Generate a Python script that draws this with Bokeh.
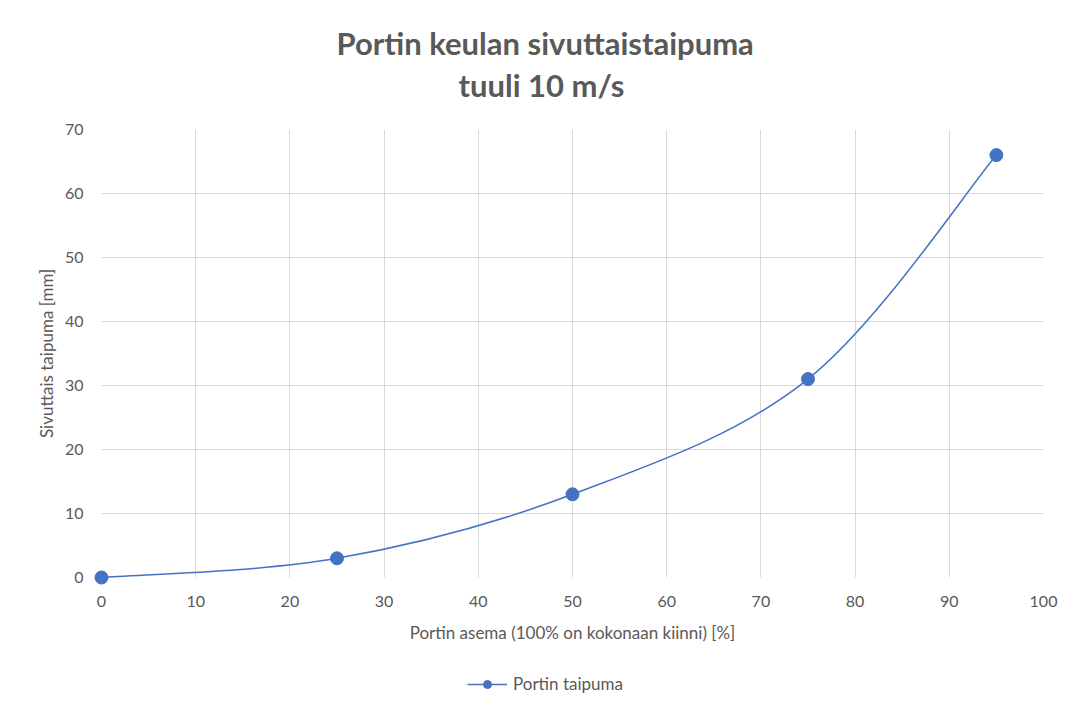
from bokeh.plotting import figure
from bokeh.layouts import column
from bokeh.models import Title, Legend, LegendItem, FixedTicker
from bokeh.embed import file_html
from bokeh.resources import INLINE

# Data
asema = [0, 25, 50, 75, 95]          # Portin asema [%]
taipuma = [0, 3, 13, 31, 66]         # Sivuttais taipuma [mm]
x_ticks = [0, 10, 20, 30, 40, 50, 60, 70, 80, 90, 100]
y_ticks = [0, 10, 20, 30, 40, 50, 60, 70]

title1 = "Portin keulan sivuttaistaipuma"
title2 = "tuuli 10 m/s"
series_name = "Portin taipuma"

BLUE = "#4472C4"
GRAY = "#595959"
GRID = "#d9d9d9"
FONT = "Lato"

p = figure(width=1059, height=650, x_range=(0, 100), y_range=(0, 70),
           output_backend="svg", toolbar_location=None,
           min_border_left=101, min_border_right=16,
           min_border_top=129, min_border_bottom=73)
p.outline_line_color = None
p.background_fill_color = "white"
p.border_fill_color = "white"

# Axes
for ax in (p.xaxis[0], p.yaxis[0]):
    ax.axis_line_color = None
    ax.major_tick_line_color = None
    ax.minor_tick_line_color = None
    ax.major_label_text_color = GRAY
    ax.major_label_text_font = FONT
    ax.major_label_text_font_size = "16px"
    ax.axis_label_text_color = GRAY
    ax.axis_label_text_font = FONT
    ax.axis_label_text_font_size = "17px"
    ax.axis_label_text_font_style = "normal"

p.xaxis.ticker = FixedTicker(ticks=x_ticks)
p.yaxis.ticker = FixedTicker(ticks=y_ticks)
p.xaxis.axis_label = "Portin asema (100% on kokonaan kiinni) [%]"
p.yaxis.axis_label = "Sivuttais taipuma [mm]"
p.xaxis.major_label_standoff = 12
p.xaxis.axis_label_standoff = 12
p.yaxis.major_label_standoff = 12
p.yaxis.axis_label_standoff = 5

p.xgrid.grid_line_color = GRID
p.ygrid.grid_line_color = GRID
p.xgrid.ticker = FixedTicker(ticks=x_ticks)
p.ygrid.ticker = FixedTicker(ticks=y_ticks)

# Smoothed line (Catmull-Rom style Bezier control points from data points)
n = len(asema)
x0s, y0s, x1s, y1s, cx0, cy0, cx1, cy1 = ([] for _ in range(8))
for i in range(n - 1):
    pxm = asema[max(i - 1, 0)]; pym = taipuma[max(i - 1, 0)]
    px0 = asema[i]; py0 = taipuma[i]
    px1 = asema[i + 1]; py1 = taipuma[i + 1]
    pxp = asema[min(i + 2, n - 1)]; pyp = taipuma[min(i + 2, n - 1)]
    x0s.append(px0); y0s.append(py0); x1s.append(px1); y1s.append(py1)
    cx0.append(px0 + (px1 - pxm) / 6.0); cy0.append(py0 + (py1 - pym) / 6.0)
    cx1.append(px1 - (pxp - px0) / 6.0); cy1.append(py1 - (pyp - py0) / 6.0)

p.bezier(x0=x0s, y0=y0s, x1=x1s, y1=y1s, cx0=cx0, cy0=cy0, cx1=cx1, cy1=cy1,
         line_color=BLUE, line_width=1.5, level="overlay")
p.scatter(asema, taipuma, size=13, marker="circle", fill_color=BLUE, line_color=BLUE,
          level="overlay")

# Title (two lines, each centred like the reference)
t2 = Title(text=title2, align="left", text_font=FONT, text_font_size="31px",
           text_font_style="bold", text_color=GRAY, standoff=51, offset=357)
t1 = Title(text=title1, align="left", text_font=FONT, text_font_size="31px",
           text_font_style="bold", text_color=GRAY, standoff=-46, offset=235)
p.add_layout(t2, "above")
p.add_layout(t1, "above")

# Legend strip (separate small figure under the chart)
lf = figure(width=1059, height=50, x_range=(0, 1), y_range=(0, 1),
            output_backend="svg", toolbar_location=None,
            min_border_left=0, min_border_right=0, min_border_top=0, min_border_bottom=0)
lf.axis.visible = False
lf.grid.visible = False
lf.outline_line_color = None
leg_line = lf.line(asema, taipuma, line_color=BLUE, line_width=1.5, visible=False)
leg_pts = lf.scatter(asema, taipuma, size=13, marker="circle", fill_color=BLUE,
                     line_color=BLUE, visible=False)
legend = Legend(items=[LegendItem(label=series_name, renderers=[leg_line, leg_pts])],
                location=(366, 6), orientation="horizontal",
                border_line_color=None, background_fill_alpha=0,
                inactive_fill_alpha=0,
                glyph_width=40, glyph_height=20, padding=3, margin=0,
                label_text_font=FONT, label_text_font_size="17px",
                label_text_color=GRAY, label_standoff=6)
lf.add_layout(legend, "center")

layout = column(p, lf, spacing=0)
open("out.html", "w").write(file_html(layout, INLINE))
